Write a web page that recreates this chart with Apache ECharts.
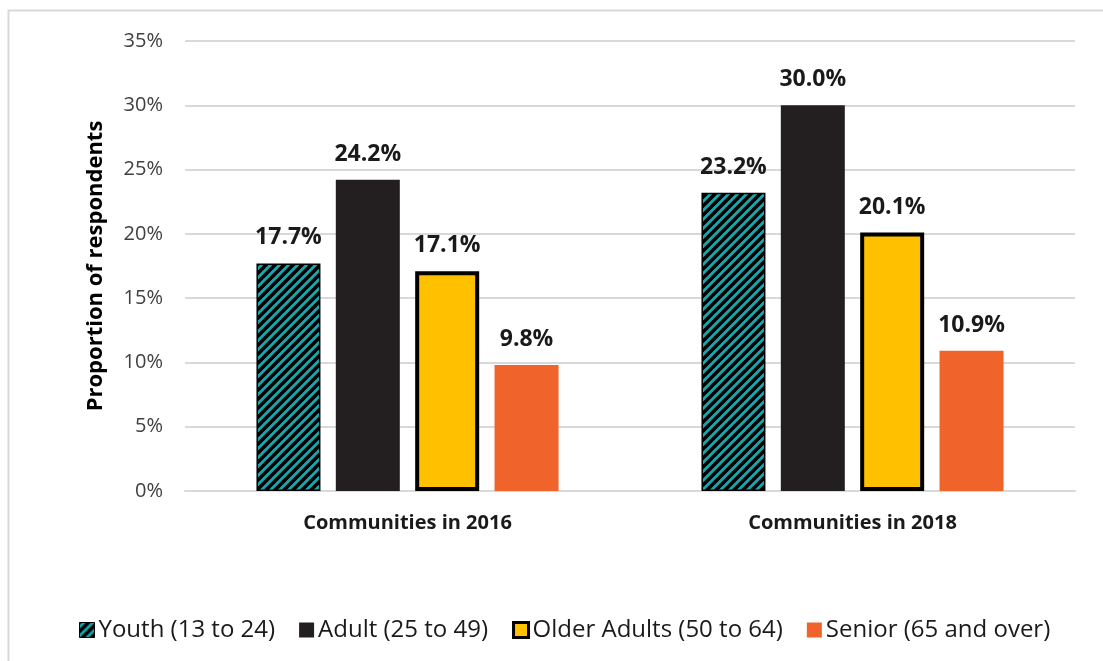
<!DOCTYPE html>
<html>
<head>
<meta charset="utf-8">
<script src="https://cdn.jsdelivr.net/npm/echarts@6/dist/echarts.min.js"></script>
<style>
  html, body { margin: 0; padding: 0; background: #fff; }
  #chart { width: 1103px; height: 661px; }
</style>
</head>
<body>
<div id="chart"></div>
<script>
// Share of respondents by age group, per survey year
const categories = ['Communities in 2016', 'Communities in 2018'];
const seriesNames = ['Youth (13 to 24)', 'Adult (25 to 49)', 'Older Adults (50 to 64)', 'Senior (65 and over)'];
const youth = [17.7, 23.2];
const adult = [24.2, 30.0];
const olderAdults = [17.1, 20.1];
const senior = [9.8, 10.9];
const yTicks = { min: 0, max: 35, interval: 5 };

// Diagonal hatch (teal with black stripes) for the youth bars
function makeHatch() {
  const size = 9;
  const c = document.createElement('canvas');
  c.width = size; c.height = size;
  const g = c.getContext('2d');
  g.fillStyle = '#17A8AF';
  g.fillRect(0, 0, size, size);
  g.strokeStyle = '#000';
  g.lineWidth = 3.6;
  g.beginPath();
  for (let k = -1; k <= 1; k++) {
    g.moveTo(k * size - 1, size + 1);
    g.lineTo(k * size + size + 1, -1);
  }
  g.stroke();
  return c;
}
const hatch = makeHatch();

const FONT = '"Open Sans", "Liberation Sans", sans-serif';

const labelCfg = {
  show: true,
  position: 'top',
  distance: 14,
  color: '#1a1a1a',
  fontFamily: FONT,
  fontWeight: 'bold',
  fontSize: 23,
  formatter: p => p.value.toFixed(1) + '%'
};

const chart = echarts.init(document.getElementById('chart'), null, { renderer: 'canvas' });

chart.setOption({
  backgroundColor: '#fff',
  animation: false,
  graphic: [{
    type: 'rect',
    shape: { x: 8.5, y: 10.5, width: 1200, height: 800 },
    style: { fill: 'none', stroke: '#D9D9D9', lineWidth: 2 },
    silent: true,
    z: -1
  }],
  grid: { left: 185, right: 28, top: 41, bottom: 170, containLabel: false },
  legend: {
    left: 74,
    top: 613,
    itemWidth: 15,
    itemHeight: 15,
    itemGap: 24,
    textStyle: { fontFamily: FONT, fontSize: 24, color: '#1a1a1a', padding: [0, 0, 0, -1] },
    data: [
      { name: seriesNames[0], icon: 'rect', itemStyle: { color: { image: hatch, repeat: 'repeat' }, borderColor: '#000', borderWidth: 1 } },
      { name: seriesNames[1], icon: 'rect', itemStyle: { color: '#231F20', borderWidth: 0 } },
      { name: seriesNames[2], icon: 'rect', itemStyle: { color: '#FFC000', borderColor: '#000', borderWidth: 3 } },
      { name: seriesNames[3], icon: 'rect', itemStyle: { color: '#F0632A', borderWidth: 0 } }
    ]
  },
  xAxis: {
    type: 'category',
    data: categories,
    axisLine: { show: true, lineStyle: { color: '#D9D9D9', width: 2 } },
    axisTick: { show: false },
    axisLabel: {
      color: '#1a1a1a',
      fontFamily: FONT,
      fontWeight: 'bold',
      fontSize: 20,
      margin: 22
    }
  },
  yAxis: {
    type: 'value',
    min: yTicks.min,
    max: yTicks.max,
    interval: yTicks.interval,
    name: 'Proportion of respondents',
    nameLocation: 'middle',
    nameGap: 78,
    nameRotate: 90,
    nameTextStyle: { color: '#000', fontFamily: FONT, fontWeight: 'bold', fontSize: 22 },
    axisLine: { show: false },
    axisTick: { show: false },
    axisLabel: {
      color: '#404040',
      fontFamily: FONT,
      fontSize: 20,
      margin: 22,
      formatter: '{value}%'
    },
    splitLine: { lineStyle: { color: '#D9D9D9', width: 2 } }
  },
  series: [
    {
      name: seriesNames[0], type: 'bar', data: youth,
      barWidth: 64, barGap: '24%', barCategoryGap: '31%',
      itemStyle: { color: { image: hatch, repeat: 'repeat' }, borderColor: '#000', borderWidth: 1.5 },
      label: labelCfg
    },
    {
      name: seriesNames[1], type: 'bar', data: adult,
      barWidth: 64,
      itemStyle: { color: '#231F20' },
      label: labelCfg
    },
    {
      name: seriesNames[2], type: 'bar', data: olderAdults,
      barWidth: 64,
      itemStyle: { color: '#FFC000', borderColor: '#000', borderWidth: 4 },
      label: labelCfg
    },
    {
      name: seriesNames[3], type: 'bar', data: senior,
      barWidth: 64,
      itemStyle: { color: '#F0632A' },
      label: labelCfg
    }
  ]
});
</script>
</body>
</html>
